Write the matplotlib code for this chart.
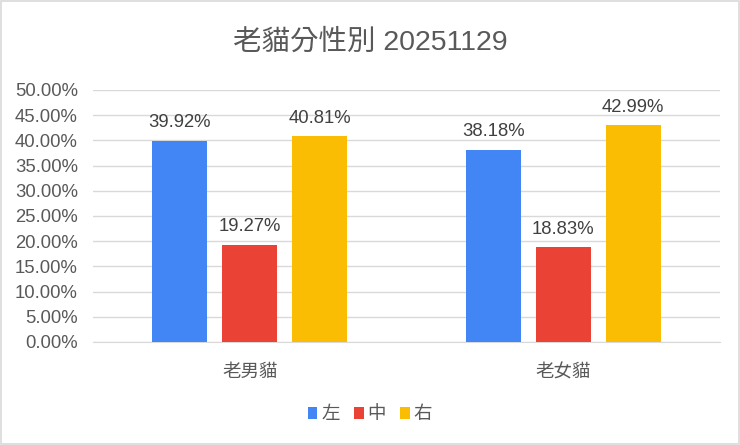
import matplotlib
matplotlib.use('Agg')
import matplotlib.pyplot as plt
import numpy as np
from matplotlib.patches import Rectangle

plt.rcParams['font.family'] = ['Liberation Sans', 'Noto Sans CJK TC']

# 数据
title = '老貓分性別 20251129'
groups = ['老男貓', '老女貓']
series = ['左', '中', '右']
values = {
    '左': [39.92, 38.18],
    '中': [19.27, 18.83],
    '右': [40.81, 42.99],
}
colors = ['#4285F4', '#EA4335', '#FBBC04']
yticks = np.arange(0, 50.01, 5)

fig = plt.figure(figsize=(7.4, 4.45), dpi=100)
ax = fig.add_axes([0.1257, 0.2315, 0.8473, 0.5663])

x = np.arange(len(groups))
w = 0.175
step = 0.223
for i, s in enumerate(series):
    xs = x + (i - 1) * step
    ax.bar(xs, values[s], width=w, color=colors[i], label=s, zorder=3)
    for xi, v in zip(xs, values[s]):
        ax.text(xi, v + 1.9, f'{v:.2f}%', ha='center', va='bottom',
                fontsize=13.3, color='#404040')

ax.set_xlim(-0.5, 1.5)
ax.set_ylim(0, 50)
ax.set_yticks(yticks)
ax.set_yticklabels([f'{t:.2f}%' for t in yticks], fontsize=13.3, color='#595959')
ax.set_xticks(x)
ax.set_xticklabels(groups, fontsize=13.3, color='#595959')
ax.tick_params(axis='both', length=0)
ax.tick_params(axis='y', pad=11)
ax.tick_params(axis='x', pad=16)
ax.grid(axis='y', color='#D9D9D9', linewidth=1, zorder=0)
for sp in ['top', 'right', 'left']:
    ax.spines[sp].set_visible(False)
ax.spines['bottom'].set_color('#D9D9D9')

fig.text(0.5, 0.905, title, ha='center', va='center', fontsize=20.5, color='#595959')

leg = ax.legend(loc='center', bbox_to_anchor=(0.5, 0.068), bbox_transform=fig.transFigure,
                ncol=3, frameon=False, fontsize=13.3, handlelength=0.5, handleheight=0.6,
                handletextpad=0.2, columnspacing=0.8)
for t in leg.get_texts():
    t.set_color('#595959')

fig.patches.append(Rectangle((0.002, 0.003), 0.996, 0.994, transform=fig.transFigure,
                             fill=False, edgecolor='#D9D9D9', linewidth=1.2))

fig.savefig('out.png')
